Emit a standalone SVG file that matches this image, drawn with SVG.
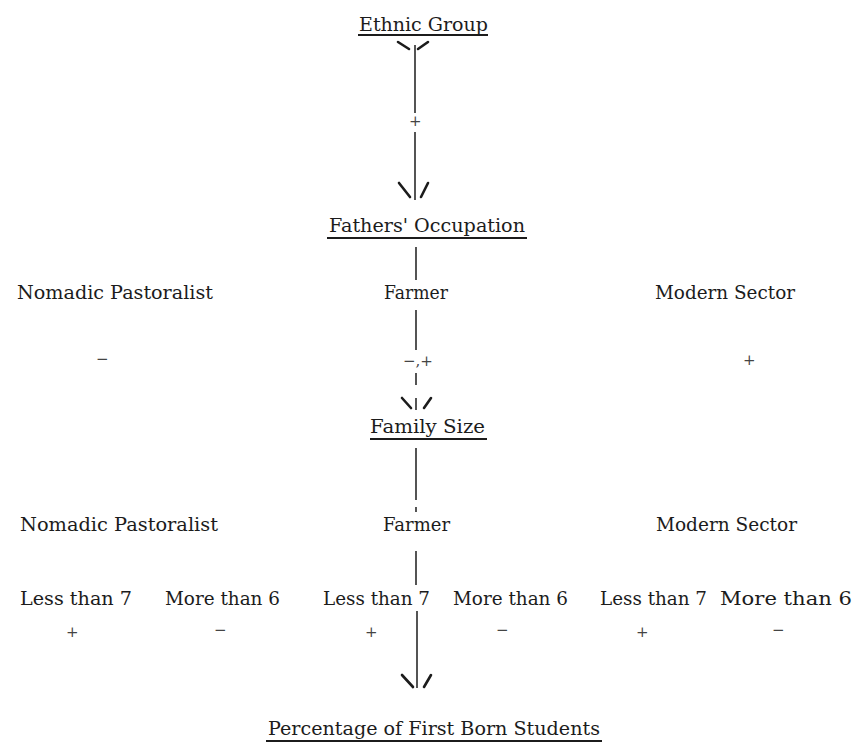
<svg xmlns="http://www.w3.org/2000/svg" width="854" height="747" viewBox="0 0 854 747">
<style>
text{font-family:"DejaVu Serif","Liberation Serif",serif;font-size:18px;fill:#1c1c1c}
.u{stroke:#1c1c1c;stroke-width:2;fill:none}
.c{stroke:#2a2a2a;stroke-width:1.6;fill:none}
.h{stroke:#1c1c1c;stroke-width:2.6;fill:none;stroke-linecap:round}
.s{font-size:15px;fill:#444}
</style>
<rect width="854" height="747" fill="#fff"/>
<g id="connectors">
<path class="h" d="M398,42 L409,49 M428,42 L418,49"/>
<line class="c" x1="415" y1="45" x2="415" y2="113"/>
<line class="c" x1="415" y1="132" x2="415" y2="200"/>
<path class="h" d="M399,183 L410,197 M428,183 L421,197"/>
<line class="c" x1="416" y1="247" x2="416" y2="280"/>
<line class="c" x1="416" y1="310" x2="416" y2="350"/>
<line class="c" x1="416" y1="373" x2="416" y2="385"/>
<line class="c" x1="416" y1="398" x2="416" y2="410"/>
<path class="h" d="M402,398 L411,408 M431,398 L424,408"/>
<line class="c" x1="416" y1="448" x2="416" y2="500"/>
<line class="c" x1="416" y1="507" x2="416" y2="512"/>
<line class="c" x1="416" y1="551" x2="416" y2="585"/>
<line class="c" x1="417" y1="611" x2="417" y2="688"/>
<path class="h" d="M402,675 L413,687 M431,675 L424,687"/>
</g>
<g id="ethnic-group">
<text x="359" y="31" textLength="129" lengthAdjust="spacingAndGlyphs">Ethnic Group</text>
<line class="u" x1="358" y1="35" x2="488" y2="35"/>
</g>
<g id="sign-ethnic"><text class="s" x="409" y="126">+</text></g>
<g id="fathers-occupation">
<text x="329" y="232" textLength="196" lengthAdjust="spacingAndGlyphs">Fathers' Occupation</text>
<line class="u" x1="327" y1="238" x2="527" y2="238"/>
</g>
<g id="occ-nomadic"><text x="17" y="299" textLength="196" lengthAdjust="spacingAndGlyphs">Nomadic Pastoralist</text></g>
<g id="occ-farmer"><text x="384" y="299" textLength="64" lengthAdjust="spacingAndGlyphs">Farmer</text></g>
<g id="occ-modern"><text x="655" y="299" textLength="140" lengthAdjust="spacingAndGlyphs">Modern Sector</text></g>
<g id="signs-occ">
<text class="s" x="96" y="364">−</text>
<text class="s" x="403" y="366">−,+</text>
<text class="s" x="743" y="365">+</text>
</g>
<g id="family-size">
<text x="370" y="433" textLength="115" lengthAdjust="spacingAndGlyphs">Family Size</text>
<line class="u" x1="370" y1="439" x2="487" y2="439"/>
</g>
<g id="fs-nomadic"><text x="20" y="531" textLength="198" lengthAdjust="spacingAndGlyphs">Nomadic Pastoralist</text></g>
<g id="fs-farmer"><text x="383" y="531" textLength="67" lengthAdjust="spacingAndGlyphs">Farmer</text></g>
<g id="fs-modern"><text x="656" y="531" textLength="141" lengthAdjust="spacingAndGlyphs">Modern Sector</text></g>
<g id="sizes">
<text x="20" y="605" textLength="112" lengthAdjust="spacingAndGlyphs">Less than 7</text>
<text x="165" y="605" textLength="115" lengthAdjust="spacingAndGlyphs">More than 6</text>
<text x="323" y="605" textLength="107" lengthAdjust="spacingAndGlyphs">Less than 7</text>
<text x="453" y="605" textLength="115" lengthAdjust="spacingAndGlyphs">More than 6</text>
<text x="600" y="605" textLength="107" lengthAdjust="spacingAndGlyphs">Less than 7</text>
<text x="720" y="605" textLength="132" lengthAdjust="spacingAndGlyphs">More  than 6</text>
</g>
<g id="signs-size">
<text class="s" x="66" y="637">+</text>
<text class="s" x="214" y="635">−</text>
<text class="s" x="365" y="637">+</text>
<text class="s" x="496" y="635">−</text>
<text class="s" x="636" y="637">+</text>
<text class="s" x="772" y="635">−</text>
</g>
<g id="percentage-first-born">
<text x="268" y="735" textLength="332" lengthAdjust="spacingAndGlyphs">Percentage of First Born Students</text>
<line class="u" x1="266" y1="741" x2="602" y2="741"/>
</g>
</svg>
